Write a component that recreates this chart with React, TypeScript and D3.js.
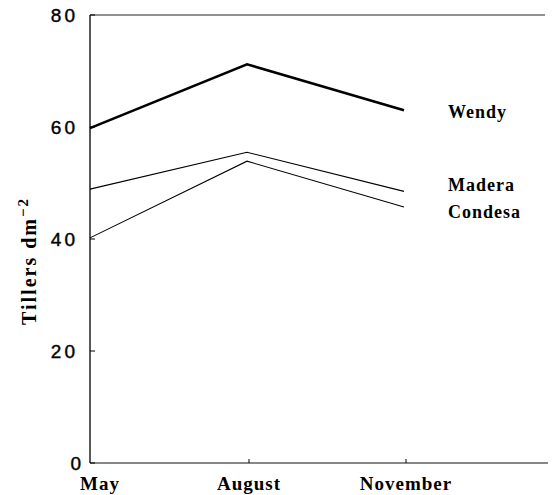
import React from "react";
import * as d3 from "d3";

const months = ["May", "August", "November"];
const wendy = [59.8, 71.2, 63.0];
const madera = [48.9, 55.5, 48.5];
const condesa = [40.2, 53.9, 45.7];
const seriesNames = ["Wendy", "Madera", "Condesa"];
const labelLevels = [62.7, 49.6, 44.8];
const yTicks = [0, 20, 40, 60, 80];

const W = 553;
const H = 495;

export default function App() {
  const x = d3.scalePoint<string>().domain(months).range([90, 404]);
  const y = d3.scaleLinear().domain([0, 80]).range([463, 15]);
  const line = d3
    .line<number>()
    .x((_, i) => x(months[i]) as number)
    .y((d) => y(d));

  const values = [wendy, madera, condesa];
  const widths = [2.6, 1.1, 1.1];

  const serif = "'Liberation Serif', 'DejaVu Serif', serif";
  const sans = "'Liberation Sans', Arial, sans-serif";

  return (
    <svg
      width={W}
      height={H}
      viewBox={`0 0 ${W} ${H}`}
      style={{ position: "absolute", left: 0, top: 0, background: "#fff" }}
    >
      {/* frame */}
      <line x1={90} x2={90} y1={y(80)} y2={y(0)} stroke="#000" strokeWidth={1.3} />
      <line x1={90} x2={548} y1={y(0)} y2={y(0)} stroke="#111" strokeWidth={1.2} />
      <line x1={90} x2={545} y1={y(80)} y2={y(80)} stroke="#222" strokeWidth={1.1} />

      {/* y ticks */}
      {yTicks.map((t) => (
        <g key={t}>
          <line x1={90} x2={95} y1={y(t)} y2={y(t)} stroke="#000" strokeWidth={1} />
          <text
            x={t === 0 ? 84 : 78}
            y={y(t)}
            dy="0.36em"
            textAnchor="end"
            fontFamily={sans}
            fontSize={19}
            letterSpacing={3}
            stroke="#000"
            strokeWidth={0.4}
            fill="#000"
          >
            {t}
          </text>
        </g>
      ))}

      {/* x ticks */}
      {months.slice(1).map((m) => (
        <line
          key={m}
          x1={(x(m) as number) + 2}
          x2={(x(m) as number) + 2}
          y1={y(0)}
          y2={y(0) - 4}
          stroke="#000"
          strokeWidth={1}
        />
      ))}
      {months.map((m, i) => (
        <text
          key={m}
          x={i === 0 ? (x(m) as number) - 10 : (x(m) as number) + 2}
          y={490}
          textAnchor={i === 0 ? "start" : "middle"}
          fontFamily={serif}
          fontWeight="bold"
          fontSize={19}
          letterSpacing={1}
          fill="#000"
        >
          {m}
        </text>
      ))}

      {/* y axis title */}
      <text
        transform="translate(36,261) rotate(-90)"
        textAnchor="middle"
        fontFamily={serif}
        fontWeight="bold"
        fontSize={20}
        letterSpacing={2}
        fill="#000"
      >
        Tillers dm
        <tspan dy={-8} fontSize={15}>
          −2
        </tspan>
      </text>

      {/* series */}
      {seriesNames.map((name, i) => (
        <g key={name}>
          <path d={line(values[i]) || ""} fill="none" stroke="#000" strokeWidth={widths[i]} />
          <text
            x={448}
            y={y(labelLevels[i]) + 6}
            fontFamily={serif}
            fontWeight="bold"
            fontSize={18}
            letterSpacing={1}
            fill="#000"
          >
            {name}
          </text>
        </g>
      ))}
    </svg>
  );
}
